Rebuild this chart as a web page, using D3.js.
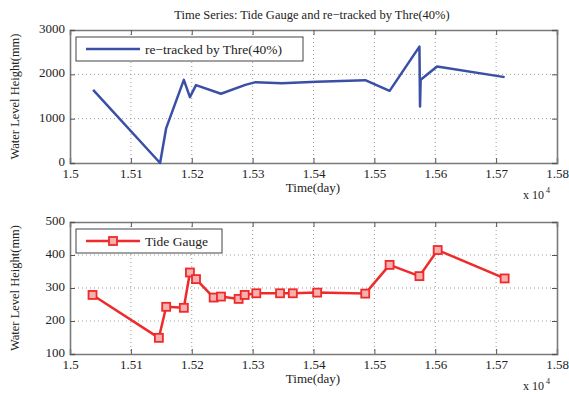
<!DOCTYPE html>
<html>
<head>
<meta charset="utf-8">
<script src="https://cdn.jsdelivr.net/npm/d3@7"></script>
<style>
  body { margin: 0; background: #fff; }
  text { font-family: "Liberation Serif", "Times New Roman", serif; fill: #222; }
</style>
</head>
<body>
<div id="chart"></div>
<script>
// data (time in days, height in mm)
var retrackedTime = [15038, 15148, 15158, 15187, 15197, 15207, 15248, 15288, 15305, 15348, 15405, 15485, 15525, 15574, 15575, 15576, 15603, 15714];
var retrackedValue = [1651, 0, 788, 1876, 1486, 1757, 1561, 1763, 1824, 1800, 1830, 1869, 1628, 2626, 1275, 1876, 2176, 1937];

var gaugeTime = [15037, 15146, 15158, 15187, 15197, 15207, 15236, 15248, 15277, 15287, 15306, 15345, 15366, 15406, 15485, 15525, 15574, 15604, 15714];
var gaugeValue = [279, 149, 243, 240, 347, 327, 271, 274, 267, 279, 284, 284, 284, 286, 283, 370, 336, 415, 329];

var xTicks = [15000, 15100, 15200, 15300, 15400, 15500, 15600, 15700, 15800];
var topYTicks = [0, 1000, 2000, 3000];
var bottomYTicks = [100, 200, 300, 400, 500];

var W = 569, H = 398;
var svg = d3.select("#chart").append("svg")
  .attr("width", W).attr("height", H);

svg.append("text")
  .attr("x", 312).attr("y", 19)
  .attr("text-anchor", "middle")
  .style("font-size", "12.5px")
  .text("Time Series: Tide Gauge and re\u2212tracked by Thre(40%)");

function drawPanel(opt) {
  var x = d3.scaleLinear().domain([15000, 15800]).range([70, 557]);
  var y = d3.scaleLinear().domain(opt.yDomain).range([opt.bottom, opt.top]);
  var g = svg.append("g");

  // grid
  g.selectAll(".gx").data(xTicks.slice(1, -1)).enter().append("line")
    .attr("x1", d => x(d)).attr("x2", d => x(d))
    .attr("y1", opt.top).attr("y2", opt.bottom)
    .attr("stroke", "#9a9a9a").attr("stroke-width", 1)
    .attr("stroke-dasharray", "1,3");
  g.selectAll(".gy").data(opt.yTicks.slice(1, -1)).enter().append("line")
    .attr("x1", 70).attr("x2", 557)
    .attr("y1", d => y(d)).attr("y2", d => y(d))
    .attr("stroke", "#9a9a9a").attr("stroke-width", 1)
    .attr("stroke-dasharray", "1,3");

  // axes (inward ticks, box style)
  var bottomAxis = g.append("g").attr("transform", "translate(0," + opt.bottom + ")")
    .call(d3.axisBottom(x).tickValues(xTicks).tickSize(-5).tickPadding(6)
      .tickFormat(d => d3.format("")(d / 10000)));
  var topAxis = g.append("g").attr("transform", "translate(0," + opt.top + ")")
    .call(d3.axisTop(x).tickValues(xTicks).tickSize(-5).tickFormat(""));
  var leftAxis = g.append("g").attr("transform", "translate(70,0)")
    .call(d3.axisLeft(y).tickValues(opt.yTicks).tickSize(-5).tickPadding(5)
      .tickFormat(d3.format("d")));
  var rightAxis = g.append("g").attr("transform", "translate(557,0)")
    .call(d3.axisRight(y).tickValues(opt.yTicks).tickSize(-5).tickFormat(""));
  [bottomAxis, topAxis, leftAxis, rightAxis].forEach(function(a) {
    a.select(".domain").attr("stroke", "#7a7a7a").attr("stroke-width", 1.6);
    a.selectAll(".tick line").attr("stroke", "#555");
    a.selectAll("text").style("font-size", "13px").style("font-family", "Liberation Serif").attr("fill", "#222");
  });
  leftAxis.selectAll("text").attr("dy", "0.2em");

  // labels
  g.append("text").attr("x", 313).attr("y", opt.bottom + 29)
    .attr("text-anchor", "middle").style("font-size", "13px").text("Time(day)");
  var ex = g.append("text").attr("x", 523).attr("y", opt.bottom + 36).style("font-size", "12px");
  ex.append("tspan").text("x 10");
  ex.append("tspan").attr("dy", -6).attr("dx", 2).style("font-size", "8px").text("4");
  g.append("text")
    .attr("transform", "translate(19," + ((opt.top + opt.bottom) / 2) + ") rotate(-90)")
    .attr("text-anchor", "middle").style("font-size", "12.5px")
    .text("Water Level Height(mm)");

  // series
  var pts = opt.times.map((t, i) => [t, opt.values[i]]);
  g.append("path").datum(pts)
    .attr("fill", "none").attr("stroke", opt.color).attr("stroke-width", 2.5)
    .attr("stroke-linejoin", "round")
    .attr("d", d3.line().x(d => x(d[0])).y(d => y(d[1])));
  if (opt.markers) {
    g.selectAll(".mk").data(pts).enter().append("rect")
      .attr("x", d => x(d[0]) - 4).attr("y", d => y(d[1]) - 4)
      .attr("width", 8).attr("height", 8)
      .attr("fill", "#f7b0b0").attr("stroke", opt.color).attr("stroke-width", 1.8);
  }

  // legend
  var lg = g.append("g");
  lg.append("rect").attr("x", 76).attr("y", opt.top + 7)
    .attr("width", opt.legendW).attr("height", 24)
    .attr("fill", "#fff").attr("stroke", "#444").attr("stroke-width", 1);
  var ly = opt.top + 19;
  lg.append("line").attr("x1", 86).attr("x2", 140).attr("y1", ly).attr("y2", ly)
    .attr("stroke", opt.color).attr("stroke-width", 2.5);
  if (opt.markers) {
    lg.append("rect").attr("x", 109).attr("y", ly - 4).attr("width", 8).attr("height", 8)
      .attr("fill", "#f7b0b0").attr("stroke", opt.color).attr("stroke-width", 1.8);
  }
  lg.append("text").attr("x", 145).attr("y", ly + 5)
    .style("font-size", "13.5px").text(opt.name);
}

drawPanel({
  top: 30, bottom: 163, yDomain: [0, 3000], yTicks: topYTicks,
  times: retrackedTime, values: retrackedValue,
  color: "#3a4fa6", markers: false, legendW: 227,
  name: "re\u2212tracked by Thre(40%)"
});

drawPanel({
  top: 222, bottom: 354, yDomain: [100, 500], yTicks: bottomYTicks,
  times: gaugeTime, values: gaugeValue,
  color: "#ee2a2a", markers: true, legendW: 146,
  name: "Tide Gauge"
});
</script>
</body>
</html>
